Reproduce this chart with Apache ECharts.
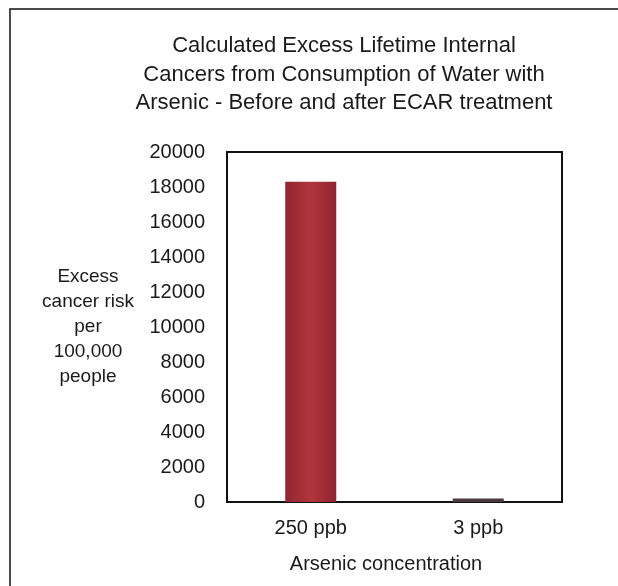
<!DOCTYPE html>
<html>
<head>
<meta charset="utf-8">
<script src="https://cdn.jsdelivr.net/npm/echarts@6/dist/echarts.min.js"></script>
<style>
html,body{margin:0;padding:0;background:#fff;}
#c{width:618px;height:586px;}
</style>
</head>
<body>
<div id="c"></div>
<script>
const categories = ['250 ppb', '3 ppb'];
const riskValues = [18300, 200];
const yTicks = { min: 0, max: 20000, interval: 2000 };
const titleText = 'Calculated Excess Lifetime Internal\nCancers from Consumption of Water with\nArsenic - Before and after ECAR treatment';
const yName = 'Excess\ncancer risk\nper\n100,000\npeople';
const xName = 'Arsenic concentration';

const FONT = '"Liberation Sans", Arial, sans-serif';
const chart = echarts.init(document.getElementById('c'), null, { renderer: 'canvas' });

const barColor = new echarts.graphic.LinearGradient(0, 0, 1, 0, [
  { offset: 0, color: '#8f2431' },
  { offset: 0.5, color: '#b1363b' },
  { offset: 1, color: '#8f2431' }
]);

chart.setOption({
  backgroundColor: '#ffffff',
  animation: false,
  title: {
    text: titleText,
    left: 344,
    top: 32,
    textAlign: 'center',
    padding: 0,
    textStyle: { fontFamily: FONT, fontSize: 22, fontWeight: 'normal', color: '#1a1a1a', lineHeight: 28.5 }
  },
  graphic: [{
    type: 'rect',
    shape: { x: 10, y: 9, width: 640, height: 620 },
    style: { fill: 'none', stroke: '#111', lineWidth: 1.5 },
    silent: true
  }],
  grid: {
    left: 227, right: 56, top: 152, bottom: 84,
    show: true, borderColor: '#111', borderWidth: 2, backgroundColor: 'transparent'
  },
  xAxis: {
    type: 'category',
    data: categories,
    axisLine: { show: true, lineStyle: { color: '#111', width: 2 } },
    axisTick: { show: false },
    axisLabel: { fontFamily: FONT, fontSize: 20, color: '#1a1a1a', margin: 16 },
    name: xName,
    nameLocation: 'middle',
    nameGap: 52,
    nameTextStyle: { fontFamily: FONT, fontSize: 20, color: '#1a1a1a', padding: [0, 17, 0, 0] }
  },
  yAxis: {
    type: 'value',
    min: yTicks.min, max: yTicks.max, interval: yTicks.interval,
    axisLine: { show: true, lineStyle: { color: '#111', width: 2 } },
    axisTick: { show: false },
    splitLine: { show: false },
    axisLabel: { fontFamily: FONT, fontSize: 20, color: '#1a1a1a', margin: 22, formatter: v => String(v) },
    name: yName,
    nameLocation: 'middle',
    nameRotate: 0,
    nameGap: 139,
    nameTextStyle: { fontFamily: FONT, fontSize: 19, color: '#1a1a1a', lineHeight: 25, align: 'center', verticalAlign: 'middle' }
  },
  series: [{
    type: 'bar',
    data: riskValues.map((v, i) => ({
      value: v,
      itemStyle: { color: i === 0 ? barColor : '#4a3a3c' }
    })),
    barWidth: 51
  }]
});
</script>
</body>
</html>
